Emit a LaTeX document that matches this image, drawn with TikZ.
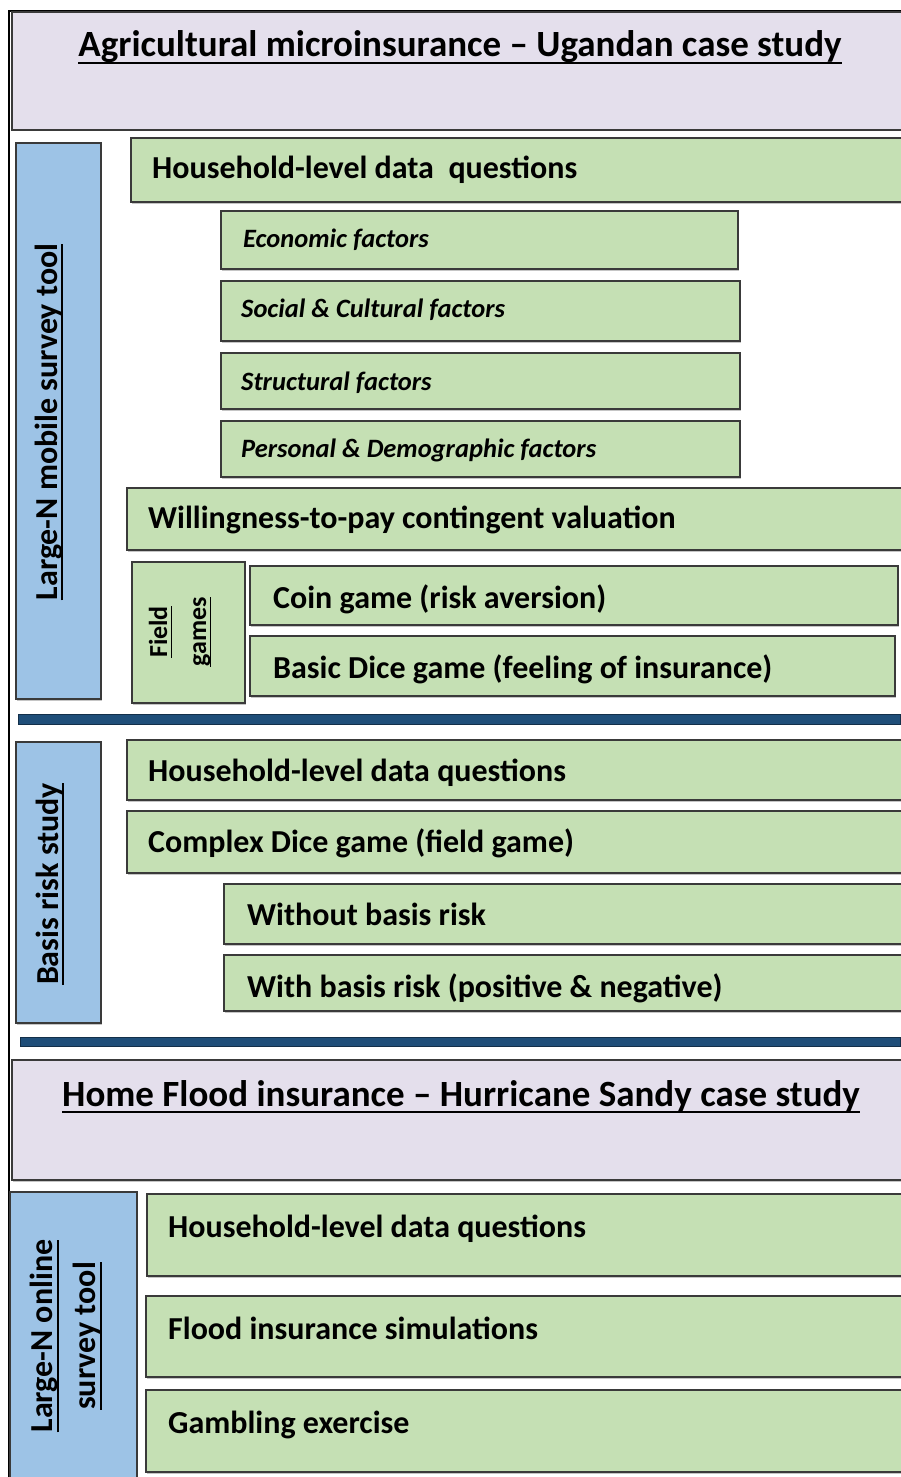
\documentclass[tikz,border=0pt]{standalone}
\usepackage{fontspec}
\setmainfont{Carlito}
\usetikzlibrary{fit,shadows}
\definecolor{hdrfill}{HTML}{E4DFEC}
\definecolor{itemfill}{HTML}{C5E0B4}
\definecolor{sidefill}{HTML}{9DC3E6}
\definecolor{barfill}{HTML}{1F4E79}
\definecolor{edge}{HTML}{3A3A3A}
\newsavebox\ulbox
% underline at a fixed depth below the baseline
\newcommand\uln[1]{\sbox\ulbox{#1}\rlap{\rule[-0.2em]{\wd\ulbox}{0.065em}}\usebox\ulbox}

\tikzset{
  panel/.style={draw=edge, line width=1.3pt, inner sep=0pt,
    drop shadow={shadow xshift=1pt, shadow yshift=-1.5pt, fill=black!45, opacity=0.5}},
  header/.style={panel, fill=hdrfill},
  item/.style={panel, fill=itemfill},
  side/.style={panel, fill=sidefill},
  bar/.style={draw=barfill!60!black, line width=1pt, fill=barfill, inner sep=0pt},
  itemtext/.style={anchor=base west, inner sep=0pt, font=\fontsize{32}{38}\selectfont\bfseries},
  factortext/.style={anchor=base west, inner sep=0pt, font=\fontsize{26.5}{32}\selectfont\bfseries\itshape},
  titletext/.style={anchor=base, inner sep=0pt, font=\fontsize{37}{44}\selectfont\bfseries},
  sidetext/.style={rotate=90, inner sep=0pt, align=center, font=\fontsize{32}{43}\selectfont\bfseries},
}

\begin{document}
\begin{tikzpicture}[x=1pt,y=-1pt]
\useasboundingbox (0,0) rectangle (901,1477);
\clip (0,0) rectangle (901,1477);

% outer frame
\node[draw=black, line width=1.3pt, inner sep=0pt, fit={(9,11) (940,1520)}] (frame) {};

% ---- Agricultural microinsurance ----
\node[header, fit={(12,12) (930,130)}] (agri) {};
\node[titletext] (agrit) at (460,57) {\uln{Agricultural microinsurance -- Ugandan case study}};

\node[side, fit={(16,143) (101,699)}] (mobile) {};
\node[sidetext] (mobilet) at (49,422) {\uln{Large-N mobile survey tool}};

\node[item, fit={(131,138) (930,202)}] (hh1) {};
\node[itemtext] (hh1t) at (152,178) {Household-level data\ \ questions};

\node[item, fit={(221,211) (738,269)}] (econ) {};
\node[factortext] (econt) at (243,247) {Economic factors};
\node[item, fit={(221,281) (740,341)}] (soc) {};
\node[factortext] (soct) at (241,317) {Social \& Cultural factors};
\node[item, fit={(221,353) (740,409)}] (struc) {};
\node[factortext] (struct) at (241,390) {Structural factors};
\node[item, fit={(221,421) (740,477)}] (pers) {};
\node[factortext] (perst) at (241,457) {Personal \& Demographic factors};

\node[item, fit={(127,488) (930,550)}] (wtp) {};
\node[itemtext] (wtpt) at (148,528) {Willingness-to-pay contingent valuation};

\node[item, fit={(132,562) (245,703)}] (field) {};
\node[sidetext, font=\fontsize{26}{39}\selectfont\bfseries] (fieldt) at (180,632) {\uln{Field}\\\uln{games}};

\node[item, fit={(250,566) (898,625)}] (coin) {};
\node[itemtext] (cointt) at (273,608) {Coin game (risk aversion)};
\node[item, fit={(250,636) (895,696)}] (dice) {};
\node[itemtext] (dicet) at (273,678) {Basic Dice game (feeling of insurance)};

\node[bar, fit={(18,714) (900,724)}] (bar1) {};

% ---- Basis risk ----
\node[side, fit={(16,742) (101,1023)}] (basis) {};
\node[sidetext] (basist) at (50,884) {\uln{Basis risk study}};

\node[item, fit={(127,740) (930,800)}] (hh2) {};
\node[itemtext] (hh2t) at (148,781) {Household-level data questions};
\node[item, fit={(127,811) (930,873)}] (cdice) {};
\node[itemtext] (cdicet) at (148,852) {Complex Dice game (field game)};
\node[item, fit={(224,884) (930,944)}] (nobr) {};
\node[itemtext] (nobrt) at (247,925) {Without basis risk};
\node[item, fit={(224,955) (930,1011)}] (wbr) {};
\node[itemtext] (wbrt) at (247,997) {With basis risk (positive \& negative)};

\node[bar, fit={(20,1037) (900,1046)}] (bar2) {};

% ---- Home flood insurance ----
\node[header, fit={(12,1060) (930,1180)}] (flood) {};
\node[titletext] (floodt) at (461,1106) {\uln{Home Flood insurance -- Hurricane Sandy case study}};

\node[side, fit={(10,1192) (137,1520)}] (online) {};
\node[sidetext] (onlinet) at (66,1336) {\uln{Large-N online}\\\uln{survey tool}};

\node[item, fit={(147,1194) (930,1276)}] (hh3) {};
\node[itemtext] (hh3t) at (168,1237) {Household-level data questions};
\node[item, fit={(146,1296) (930,1377)}] (sim) {};
\node[itemtext] (simt) at (168,1339) {Flood insurance simulations};
\node[item, fit={(146,1390) (930,1472)}] (gamb) {};
\node[itemtext] (gambt) at (168,1433) {Gambling exercise};
\end{tikzpicture}
\end{document}
